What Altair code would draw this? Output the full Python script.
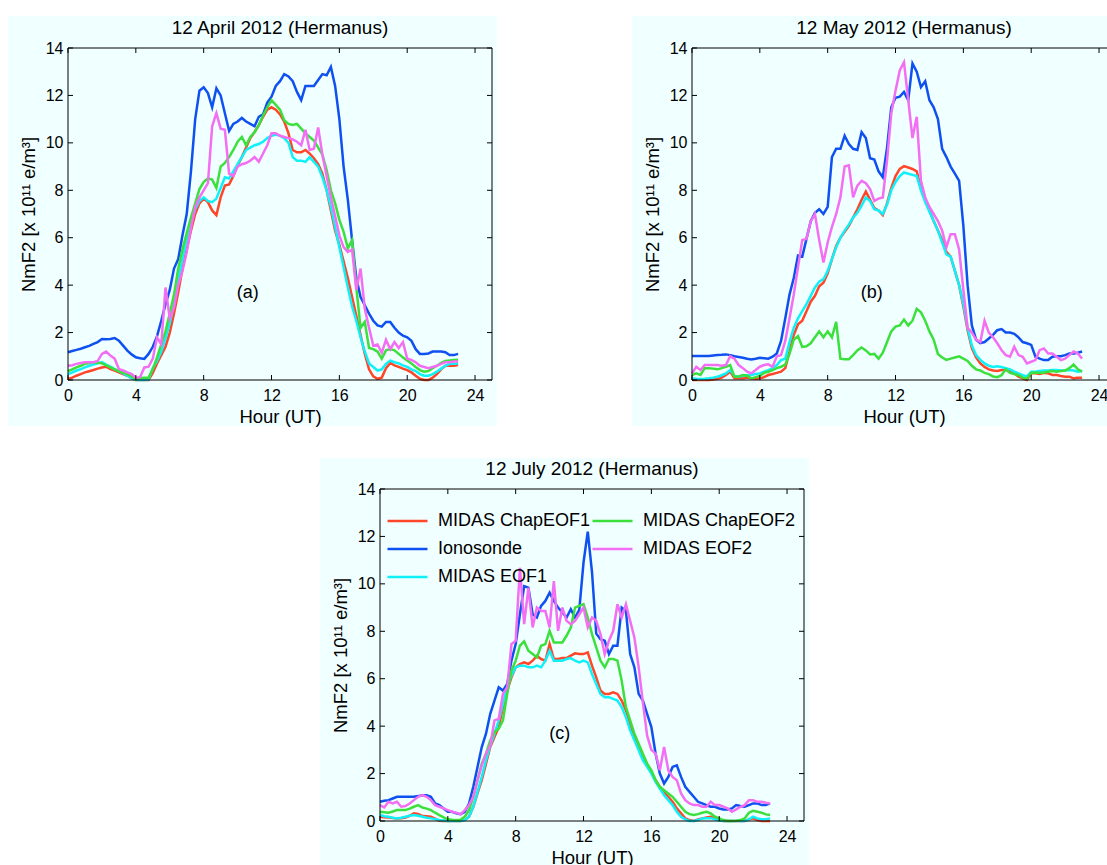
import altair as alt
import pandas as pd

# Sample times (hours UT, 15-minute cadence)
HOURS = [0, 0.25, 0.5, 0.75, 1, 1.25, 1.5, 1.75, 2, 2.25, 2.5, 2.75, 3, 3.25, 3.5, 3.75,
         4, 4.25, 4.5, 4.75, 5, 5.25, 5.5, 5.75, 6, 6.25, 6.5, 6.75, 7, 7.25, 7.5, 7.75,
         8, 8.25, 8.5, 8.75, 9, 9.25, 9.5, 9.75, 10, 10.25, 10.5, 10.75, 11, 11.25, 11.5, 11.75,
         12, 12.25, 12.5, 12.75, 13, 13.25, 13.5, 13.75, 14, 14.25, 14.5, 14.75, 15, 15.25, 15.5, 15.75,
         16, 16.25, 16.5, 16.75, 17, 17.25, 17.5, 17.75, 18, 18.25, 18.5, 18.75, 19, 19.25, 19.5, 19.75,
         20, 20.25, 20.5, 20.75, 21, 21.25, 21.5, 21.75, 22, 22.25, 22.5, 22.75, 23]

# Plot order (later series are drawn on top); the legend fills column by column in this order
SERIES = ["MIDAS ChapEOF1", "Ionosonde", "MIDAS EOF1", "MIDAS ChapEOF2", "MIDAS EOF2"]
COLORS = ["#ff4628", "#0f50f0", "#10f0f8", "#3ce03c", "#f46ef4"]

X_TICKS = [0, 4, 8, 12, 16, 20, 24]
Y_TICKS = [0, 2, 4, 6, 8, 10, 12, 14]
TITLES = ["12 April 2012 (Hermanus)", "12 May 2012 (Hermanus)", "12 July 2012 (Hermanus)"]
TAGS = ["(a)", "(b)", "(c)"]
TAG_HOUR = 10.6
TAG_VALUE = 3.65

# NmF2 [x 10^11 e/m^3], 12 April 2012
APR_IONOSONDE = [1.17, 1.22, 1.27, 1.32, 1.38, 1.44, 1.52, 1.60, 1.73, 1.72, 1.73, 1.77,
                 1.66, 1.45, 1.24, 1.08, 0.96, 0.92, 0.89, 1.1, 1.4, 1.85, 2.5, 3.2,
                 3.8, 4.7, 5.1, 6.1, 7.0, 8.8, 11.0, 12.2, 12.34, 12.1, 11.5, 12.3,
                 12.0, 11.25, 10.5, 10.8, 10.9, 11.05, 10.9, 10.8, 10.7, 11.1, 11.2, 11.7,
                 11.95, 12.4, 12.6, 12.9, 12.8, 12.6, 12.15, 11.8, 12.4, 12.4, 12.4, 12.65,
                 12.9, 12.85, 13.2, 12.4, 11.0, 9.0, 7.6, 5.9, 4.3, 3.5, 3.15, 2.8,
                 2.5, 2.3, 2.25, 2.45, 2.45, 2.2, 2.0, 1.87, 1.8, 1.65, 1.3, 1.1,
                 1.1, 1.12, 1.2, 1.2, 1.2, 1.17, 1.05, 1.05, 1.1]
APR_EOF2 = [0.6, 0.62, 0.68, 0.72, 0.75, 0.75, 0.75, 0.8, 1.1, 1.2, 1.03, 0.9,
            0.46, 0.4, 0.32, 0.25, 0.1, 0.12, 0.53, 0.56, 0.9, 1.8, 1.5, 3.9,
            2.6, 3.05, 4.0, 4.6, 5.4, 6.4, 7.3, 7.7, 8.0, 8.3, 10.7, 11.25,
            10.6, 10.55, 8.7, 8.6, 9.0, 9.1, 9.15, 9.25, 9.4, 9.2, 9.55, 9.9,
            10.4, 10.4, 10.3, 10.25, 10.2, 10.15, 10.05, 9.9, 10.55, 9.7, 9.75, 10.65,
            9.5, 8.6, 7.7, 6.9, 6.1, 5.6, 5.4, 5.5, 3.8, 4.7, 3.0, 2.2,
            1.45, 1.5, 1.15, 1.7, 1.3, 1.6, 1.35, 1.6, 0.9, 0.85, 0.75, 0.6,
            0.55, 0.5, 0.55, 0.6, 0.68, 0.75, 0.75, 0.78, 0.78]
APR_CHAPEOF2 = [0.37, 0.45, 0.53, 0.6, 0.68, 0.72, 0.75, 0.74, 0.7, 0.62, 0.53, 0.45,
                0.37, 0.3, 0.25, 0.15, 0.04, 0.08, 0.1, 0.1, 0.45, 0.95, 1.5, 2.05,
                2.8, 3.6, 4.7, 5.5, 6.2, 6.85, 7.45, 8.05, 8.35, 8.5, 8.45, 8.1,
                9.0, 9.15, 9.4, 9.7, 10.05, 10.25, 9.9, 10.25, 10.45, 10.75, 11.15, 11.5,
                11.8, 11.6, 11.4, 10.95, 10.8, 10.75, 10.8, 10.6, 10.4, 10.25, 10.1, 9.8,
                9.5, 8.85, 8.0, 7.45, 6.75, 6.25, 5.55, 5.9, 3.9, 2.2, 2.45, 1.35,
                1.3, 1.2, 0.9, 1.25, 1.3, 1.25, 1.1, 0.95, 0.82, 0.7, 0.55, 0.42,
                0.35, 0.38, 0.5, 0.6, 0.72, 0.8, 0.82, 0.84, 0.85]
APR_CHAPEOF1 = [0.04, 0.1, 0.18, 0.25, 0.32, 0.37, 0.42, 0.48, 0.53, 0.56, 0.46, 0.4,
                0.32, 0.25, 0.18, 0.08, 0.0, 0.0, 0.0, 0.0, 0.3, 0.7, 1.05, 1.4,
                2.0, 2.8, 3.7, 4.7, 5.5, 6.3, 7.0, 7.45, 7.65, 7.5, 7.15, 6.95,
                7.7, 8.2, 8.25, 8.6, 9.05, 9.4, 9.8, 10.2, 10.45, 10.75, 11.1, 11.4,
                11.5, 11.4, 11.2, 10.9, 10.4, 9.7, 9.6, 9.6, 9.7, 9.55, 9.35, 9.1,
                8.7, 8.0, 7.15, 6.3, 5.7, 5.0, 4.3, 3.5, 2.7, 1.9, 1.1, 0.45,
                0.15, 0.05, 0.1, 0.5, 0.72, 0.62, 0.55, 0.48, 0.42, 0.32, 0.18, 0.05,
                0.0, 0.0, 0.1, 0.25, 0.45, 0.6, 0.6, 0.6, 0.63]
APR_EOF1 = [0.25, 0.32, 0.4, 0.46, 0.53, 0.6, 0.65, 0.7, 0.75, 0.65, 0.56, 0.46,
            0.37, 0.28, 0.18, 0.08, 0.0, 0.0, 0.0, 0.02, 0.5, 0.8, 1.2, 1.75,
            2.4, 3.2, 4.2, 5.1, 5.9, 6.6, 7.2, 7.55, 7.7, 7.55, 7.5, 7.65,
            8.1, 8.55, 8.5, 8.8, 9.1, 9.4, 9.7, 9.8, 9.9, 9.95, 10.05, 10.2,
            10.3, 10.35, 10.3, 10.2, 10.0, 9.4, 9.25, 9.25, 9.2, 9.4, 9.2, 9.0,
            8.55, 8.0, 7.3, 6.45, 5.6, 4.75, 3.9, 3.1, 2.5, 1.8, 1.2, 0.7,
            0.55, 0.4, 0.45, 0.68, 0.82, 0.75, 0.7, 0.62, 0.55, 0.45, 0.38, 0.25,
            0.18, 0.18, 0.25, 0.35, 0.48, 0.6, 0.68, 0.68, 0.7]

# NmF2 [x 10^11 e/m^3], 12 May 2012
MAY_IONOSONDE = [1.01, 1.01, 1.01, 1.01, 1.01, 1.03, 1.05, 1.06, 1.08, 1.05, 1.0, 0.97,
                 0.94, 0.9, 0.87, 0.9, 0.94, 0.92, 0.9, 0.98, 1.12, 1.65, 2.6, 3.6,
                 4.3, 5.25, 5.2, 5.95, 6.7, 7.05, 7.2, 7.0, 7.3, 9.4, 9.75, 9.75,
                 10.3, 9.95, 9.75, 9.7, 10.45, 10.2, 9.35, 9.3, 8.8, 8.55, 9.8, 11.5,
                 11.9, 11.95, 12.15, 11.8, 13.35, 13.0, 12.35, 12.6, 11.8, 11.5, 11.0, 9.75,
                 9.4, 9.0, 8.7, 8.4, 6.5, 4.0, 2.3, 1.7, 1.55, 1.6, 1.75, 1.9,
                 2.1, 2.15, 2.0, 2.0, 1.95, 1.8, 1.6, 1.55, 1.48, 0.98, 0.9, 0.84,
                 0.84, 0.98, 1.0, 1.0, 1.05, 1.12, 1.12, 1.15, 1.2]
MAY_EOF2 = [0.28, 0.56, 0.42, 0.63, 0.63, 0.63, 0.63, 0.6, 0.63, 1.0, 0.9, 0.63,
            0.5, 0.35, 0.28, 0.42, 0.56, 0.63, 0.66, 0.56, 1.0, 1.05, 1.65, 2.6,
            3.6, 4.75, 5.9, 5.95, 6.7, 7.0, 5.9, 4.95, 5.8, 6.45, 7.0, 7.7,
            9.0, 9.05, 7.7, 8.2, 8.4, 8.3, 8.05, 7.55, 7.65, 7.7, 9.25, 11.25,
            12.2, 13.05, 13.4, 11.8, 10.2, 11.1, 8.4, 7.7, 7.3, 7.0, 6.7, 6.3,
            5.6, 6.15, 6.15, 5.5, 3.8, 2.2, 2.0, 1.7, 1.6, 2.5, 2.0, 1.8,
            1.55, 1.26, 1.05, 0.98, 1.4, 1.05, 0.98, 0.7, 0.77, 0.84, 1.26, 1.33,
            1.12, 1.12, 0.98, 0.84, 0.9, 1.05, 1.2, 1.12, 0.9]
MAY_CHAPEOF1 = [0.0, 0.0, 0.0, 0.0, 0.0, 0.02, 0.05, 0.1, 0.21, 0.35, 0.07, 0.07,
                0.07, 0.1, 0.07, 0.05, 0.07, 0.12, 0.21, 0.25, 0.3, 0.35, 0.5, 1.2,
                1.9, 2.35, 2.5, 2.9, 3.3, 3.55, 3.95, 4.1, 4.5, 5.1, 5.65, 6.0,
                6.25, 6.5, 6.85, 7.2, 7.6, 7.95, 7.6, 7.25, 7.15, 6.95, 7.45, 8.1,
                8.6, 8.9, 9.02, 8.96, 8.9, 8.8, 8.05, 7.6, 7.15, 6.7, 6.3, 5.9,
                5.4, 5.2, 4.6, 4.0, 3.1, 2.1, 1.35, 0.95, 0.7, 0.55, 0.45, 0.4,
                0.38, 0.42, 0.42, 0.35, 0.28, 0.14, 0.07, 0.0, 0.28, 0.28, 0.25, 0.3,
                0.28, 0.21, 0.21, 0.17, 0.14, 0.14, 0.07, 0.1, 0.1]
MAY_EOF1 = [0.07, 0.05, 0.04, 0.05, 0.07, 0.1, 0.14, 0.2, 0.28, 0.42, 0.17, 0.15,
            0.17, 0.2, 0.21, 0.25, 0.28, 0.35, 0.42, 0.5, 0.63, 0.84, 0.9, 1.6,
            2.2, 2.6, 2.9, 3.2, 3.55, 3.9, 4.15, 4.25, 4.6, 5.1, 5.6, 6.0,
            6.3, 6.55, 6.85, 7.05, 7.35, 7.7, 7.55, 7.2, 7.15, 7.0, 7.4, 8.0,
            8.35, 8.6, 8.75, 8.7, 8.65, 8.6, 8.0, 7.5, 7.1, 6.7, 6.3, 5.8,
            5.3, 5.2, 4.6, 4.0, 3.2, 2.2, 1.45, 1.05, 0.85, 0.7, 0.6, 0.55,
            0.58, 0.55, 0.5, 0.45, 0.35, 0.28, 0.2, 0.15, 0.35, 0.35, 0.38, 0.4,
            0.4, 0.42, 0.42, 0.4, 0.4, 0.42, 0.4, 0.35, 0.38]
MAY_CHAPEOF2 = [0.21, 0.28, 0.21, 0.5, 0.5, 0.48, 0.45, 0.5, 0.56, 0.63, 0.14, 0.15,
                0.21, 0.18, 0.07, 0.12, 0.17, 0.3, 0.35, 0.42, 0.5, 0.56, 0.65, 1.1,
                1.7, 1.85, 1.4, 1.42, 1.55, 1.8, 2.05, 1.8, 2.05, 1.8, 2.45, 0.9,
                0.88, 0.88, 1.05, 1.25, 1.37, 1.25, 1.08, 1.1, 0.9, 1.15, 1.6, 2.05,
                2.25, 2.3, 2.55, 2.3, 2.5, 3.0, 2.85, 2.5, 2.05, 1.7, 1.1, 0.95,
                0.85, 0.9, 0.95, 1.0, 0.9, 0.8, 0.6, 0.45, 0.4, 0.3, 0.25, 0.15,
                0.12, 0.2, 0.45, 0.3, 0.25, 0.2, 0.1, 0.05, 0.3, 0.32, 0.3, 0.32,
                0.35, 0.38, 0.35, 0.38, 0.4, 0.5, 0.65, 0.45, 0.35]

# NmF2 [x 10^11 e/m^3], 12 July 2012
JUL_IONOSONDE = [0.81, 0.85, 0.88, 0.95, 1.02, 1.02, 1.02, 1.02, 1.02, 1.05, 1.09, 1.09,
                 1.02, 0.74, 0.67, 0.53, 0.39, 0.39, 0.32, 0.29, 0.39, 0.74, 1.44, 2.28,
                 3.12, 3.68, 4.52, 5.08, 5.64, 5.5, 5.78, 6.76, 7.46, 8.72, 9.9, 9.84,
                 8.72, 8.58, 9.07, 9.28, 9.63, 9.28, 9.0, 8.79, 8.58, 8.93, 8.58, 8.9,
                 10.9, 12.2, 10.5, 7.9, 7.67, 7.6, 7.04, 7.39, 7.39, 9.0, 8.86, 7.04,
                 6.48, 5.36, 5.08, 4.52, 3.96, 2.84, 2.0, 1.58, 1.86, 2.28, 2.35, 1.86,
                 1.44, 1.23, 1.02, 0.81, 0.74, 0.67, 0.6, 0.6, 0.53, 0.49, 0.49, 0.53,
                 0.67, 0.63, 0.6, 0.67, 0.74, 0.74, 0.67, 0.67, 0.74]
JUL_EOF2 = [0.67, 0.57, 0.81, 0.74, 0.81, 0.6, 0.63, 0.74, 0.88, 1.02, 1.09, 1.02,
            0.88, 0.67, 0.6, 0.53, 0.46, 0.39, 0.35, 0.28, 0.46, 0.67, 1.02, 1.72,
            2.35, 2.84, 3.19, 4.24, 4.31, 5.36, 5.64, 7.46, 7.6, 10.68, 8.3, 9.84,
            8.16, 9.0, 8.86, 8.86, 8.16, 10.12, 8.02, 9.0, 8.44, 8.3, 8.44, 8.72,
            9.0, 8.16, 8.58, 8.44, 7.88, 7.04, 7.6, 8.02, 9.14, 8.58, 9.14, 8.44,
            7.74, 6.5, 5.0, 3.6, 3.0, 2.84, 2.14, 3.12, 2.14, 1.86, 1.72, 1.16,
            0.88, 0.74, 0.67, 0.67, 0.6, 0.6, 0.81, 0.67, 0.67, 0.6, 0.53, 0.39,
            0.49, 0.6, 0.67, 0.88, 0.88, 0.81, 0.81, 0.77, 0.74]
JUL_CHAPEOF2 = [0.39, 0.37, 0.35, 0.4, 0.46, 0.46, 0.46, 0.52, 0.6, 0.67, 0.57, 0.52,
                0.46, 0.35, 0.25, 0.15, 0.07, 0.05, 0.04, 0.05, 0.18, 0.46, 1.02, 1.72,
                2.42, 2.84, 3.4, 3.75, 3.89, 4.24, 5.36, 6.34, 6.76, 7.39, 7.57, 7.18,
                7.04, 6.9, 7.39, 7.46, 8.02, 7.53, 7.53, 7.53, 7.81, 8.16, 9.0, 9.07,
                9.14, 8.58, 7.88, 7.32, 6.76, 6.48, 6.83, 6.83, 6.76, 5.92, 4.8, 4.24,
                3.68, 3.26, 2.84, 2.42, 2.14, 1.72, 1.44, 1.3, 1.16, 1.02, 0.81, 0.6,
                0.39, 0.29, 0.25, 0.29, 0.35, 0.39, 0.32, 0.18, 0.11, 0.04, 0.0, 0.0,
                0.01, 0.04, 0.11, 0.35, 0.43, 0.39, 0.35, 0.28, 0.25]
JUL_CHAPEOF1 = [0.18, 0.16, 0.15, 0.13, 0.11, 0.12, 0.15, 0.22, 0.32, 0.3, 0.21, 0.2,
                0.18, 0.1, 0.01, 0.0, 0.0, 0.0, 0.0, 0.0, 0.04, 0.18, 0.6, 1.16,
                1.72, 2.42, 3.12, 3.54, 3.96, 4.8, 5.5, 6.06, 6.48, 6.62, 6.69, 6.62,
                6.76, 6.97, 6.83, 6.76, 7.46, 6.83, 6.83, 6.87, 6.87, 6.97, 7.07, 7.04,
                7.04, 7.11, 6.55, 6.06, 5.5, 5.36, 5.36, 5.43, 5.36, 5.08, 4.66, 4.1,
                3.54, 3.12, 2.7, 2.35, 2.07, 1.72, 1.44, 1.19, 1.02, 0.81, 0.53, 0.32,
                0.11, 0.04, 0.0, 0.07, 0.11, 0.15, 0.18, 0.1, 0.04, 0.0, 0.0, 0.0,
                0.0, 0.0, 0.0, 0.07, 0.11, 0.04, 0.0, 0.0, 0.0]
JUL_EOF1 = [0.25, 0.2, 0.18, 0.14, 0.11, 0.14, 0.18, 0.22, 0.25, 0.22, 0.18, 0.14,
            0.11, 0.08, 0.04, 0.02, 0.0, 0.0, 0.0, 0.0, 0.04, 0.18, 0.6, 1.23,
            1.86, 2.56, 3.19, 3.68, 4.24, 4.94, 5.64, 6.13, 6.48, 6.55, 6.55, 6.48,
            6.48, 6.55, 6.48, 6.76, 7.18, 6.76, 6.76, 6.76, 6.83, 6.87, 6.76, 6.69,
            6.76, 6.69, 6.2, 5.78, 5.36, 5.22, 5.22, 5.15, 5.08, 4.8, 4.38, 3.82,
            3.4, 2.98, 2.56, 2.28, 2.0, 1.65, 1.37, 1.09, 0.88, 0.67, 0.39, 0.18,
            0.07, 0.0, 0.0, 0.04, 0.11, 0.12, 0.12, 0.07, 0.02, 0.0, 0.0, 0.0,
            0.0, 0.0, 0.0, 0.07, 0.18, 0.11, 0.07, 0.07, 0.11]

PANELS = [
    {"MIDAS ChapEOF1": APR_CHAPEOF1, "MIDAS ChapEOF2": APR_CHAPEOF2, "Ionosonde": APR_IONOSONDE,
     "MIDAS EOF2": APR_EOF2, "MIDAS EOF1": APR_EOF1},
    {"MIDAS ChapEOF1": MAY_CHAPEOF1, "MIDAS ChapEOF2": MAY_CHAPEOF2, "Ionosonde": MAY_IONOSONDE,
     "MIDAS EOF2": MAY_EOF2, "MIDAS EOF1": MAY_EOF1},
    {"MIDAS ChapEOF1": JUL_CHAPEOF1, "MIDAS ChapEOF2": JUL_CHAPEOF2, "Ionosonde": JUL_IONOSONDE,
     "MIDAS EOF2": JUL_EOF2, "MIDAS EOF1": JUL_EOF1},
]

FONT = "Liberation Sans"
BACKDROP = "#f0ffff"
W, H = 424, 332
TICK_LEN = 5


def x_enc():
    return alt.X("hour:Q",
                 scale=alt.Scale(domain=[0, 25], nice=False, zero=False),
                 axis=alt.Axis(values=X_TICKS, title="Hour (UT)", format="d",
                               labelFlush=False, labelOverlap=False,
                               labelPadding=7, titlePadding=4, zindex=1))


def y_enc():
    return alt.Y("nmf2:Q",
                 scale=alt.Scale(domain=[0, 14], nice=False, zero=False),
                 axis=alt.Axis(values=Y_TICKS, title="NmF2 [x 10¹¹ e/m³]", format="d",
                               labelFlush=False, labelOverlap=False,
                               labelPadding=5, titlePadding=7, zindex=1))


def panel(title, tag, values, top_ext, bottom_ext, legend):
    frames = [pd.DataFrame({"hour": HOURS, "nmf2": values[name], "series": name}) for name in SERIES]
    df = pd.concat(frames, ignore_index=True)
    one = pd.DataFrame({"k": [0]})

    color = alt.Color("series:N", scale=alt.Scale(domain=SERIES, range=COLORS), legend=legend)

    # light panel backdrop behind plot, tick labels and titles
    backdrop = alt.Chart(one).mark_rect(color=BACKDROP).encode(
        x=alt.value(-60), x2=alt.value(W + 5),
        y=alt.value(-top_ext), y2=alt.value(H + bottom_ext))

    lines = [
        alt.Chart(df).transform_filter(alt.datum.series == name)
        .mark_line(strokeWidth=2.5)
        .encode(x=x_enc(), y=y_enc(), color=color)
        for name in SERIES
    ]

    heading = alt.Chart(one).mark_text(text=title, font=FONT, fontSize=19, color="black",
                                       baseline="alphabetic").encode(
        x=alt.value(W / 2), y=alt.value(-14))

    tag_df = pd.DataFrame({"hour": [TAG_HOUR], "nmf2": [TAG_VALUE], "tag": [tag]})
    tag_text = alt.Chart(tag_df).mark_text(font=FONT, fontSize=18, color="black").encode(
        x=x_enc(), y=y_enc(), text="tag:N")

    # inward-pointing ticks on all four sides
    xt = pd.DataFrame({"hour": X_TICKS})
    yt = pd.DataFrame({"nmf2": Y_TICKS})
    tick = dict(color="black", strokeWidth=1)
    ticks = [
        alt.Chart(xt).mark_rule(**tick).encode(x=x_enc(), y=alt.value(H), y2=alt.value(H - TICK_LEN)),
        alt.Chart(xt).mark_rule(**tick).encode(x=x_enc(), y=alt.value(0), y2=alt.value(TICK_LEN)),
        alt.Chart(yt).mark_rule(**tick).encode(y=y_enc(), x=alt.value(0), x2=alt.value(TICK_LEN)),
        alt.Chart(yt).mark_rule(**tick).encode(y=y_enc(), x=alt.value(W), x2=alt.value(W - TICK_LEN)),
    ]

    frame = alt.Chart(one).mark_rect(filled=False, color="black", strokeWidth=1).encode(
        x=alt.value(0), x2=alt.value(W), y=alt.value(0), y2=alt.value(H))

    return alt.layer(backdrop, *lines, tag_text, heading, *ticks, frame).properties(width=W, height=H)


legend_c = alt.Legend(title=None, orient="none", legendX=6, legendY=22, direction="vertical",
                      columns=2, symbolType="stroke", symbolSize=1600, symbolStrokeWidth=2.5,
                      labelFont=FONT, labelFontSize=18, labelColor="black", labelOffset=9,
                      labelLimit=0, clipHeight=20, rowPadding=8, columnPadding=0, padding=0)

panel_a = panel(TITLES[0], TAGS[0], PANELS[0], 32, 46, None)
panel_b = panel(TITLES[1], TAGS[1], PANELS[1], 32, 46, None)
panel_c = panel(TITLES[2], TAGS[2], PANELS[2], 31, 50, legend_c)

# the May panel runs past the right edge of the figure and the July panel past its
# bottom edge; negative right/bottom padding trims the canvas there
top_row = alt.hconcat(panel_a, panel_b, spacing=135).resolve_scale(color="independent")
chart = (
    alt.vconcat(top_row, panel_c, spacing=32, center=True)
    .resolve_scale(color="independent")
    .configure(font=FONT, background="white",
               padding={"left": 8, "top": 16, "right": -14, "bottom": -6})
    .configure_view(strokeWidth=0)
    .configure_axis(labelFont=FONT, titleFont=FONT, labelFontSize=16, titleFontSize=18.5,
                    labelColor="black", titleColor="black", titleFontWeight="normal",
                    grid=False, ticks=False, domain=False)
)

chart.save("out.html", embed_options={"renderer": "svg", "actions": False})
